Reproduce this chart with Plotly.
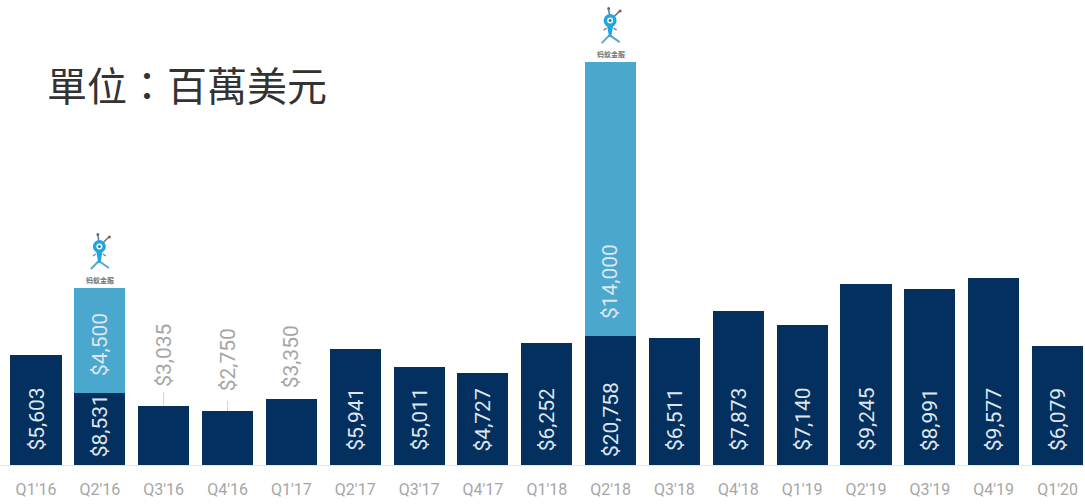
import plotly.graph_objects as go

quarters = ["Q1'16","Q2'16","Q3'16","Q4'16","Q1'17","Q2'17","Q3'17","Q4'17","Q1'18","Q2'18","Q3'18","Q4'18","Q1'19","Q2'19","Q3'19","Q4'19","Q1'20"]
# Heights
base_values = [5603,3700,3035,2750,3350,5941,5011,4727,6252,6600,6511,7873,7140,9245,8991,9577,6079]
ant_values  = [0,5350,0,0,0,0,0,0,0,14000,0,0,0,0,0,0,0]
base_labels = ["$5,603","$8,531",None,None,None,"$5,941","$5,011","$4,727","$6,252","$20,758","$6,511","$7,873","$7,140","$9,245","$8,991","$9,577","$6,079"]
ant_labels  = {1:"$4,500", 9:"$14,000"}
outside_labels = {2:"$3,035", 3:"$2,750", 4:"$3,350"}
connector_lengths = [0,0,700,520,0,0,0,0,0,0,0,0,0,0,0,0,0]

NAVY = "#04305f"
BLUE = "#4aa8cf"
TXT = "#dfe5ec"
GRAY = "#a6a6a6"
FONT = "Roboto"

fig = go.Figure()
fig.add_bar(x=quarters, y=base_values, marker=dict(color=NAVY, line_width=0), width=0.8,
            error_y=dict(type="data", array=connector_lengths, symmetric=False, color="#d5d5d5", thickness=1, width=0))
fig.add_bar(x=quarters, y=ant_values, marker=dict(color=BLUE, line_width=0), width=0.8)

annots = []
def rot(x, y, text, color, shift, size=21):
    annots.append(dict(x=x, y=y, xref="x", yref="y", text=text, textangle=-90, showarrow=False,
                       yanchor="bottom", xanchor="center", yshift=shift, borderpad=0,
                       font=dict(family=FONT, size=size, color=color)))

for i, lab in enumerate(base_labels):
    if lab:
        rot(quarters[i], 0, lab, TXT, 7 if i in (1, 9) else 13)
for i, lab in ant_labels.items():
    rot(quarters[i], base_values[i], lab, TXT, 16)
outside_shift = {2: 18, 3: 19, 4: 10}
for i, lab in outside_labels.items():
    rot(quarters[i], base_values[i], lab, GRAY, outside_shift[i])

annots.append(dict(x=46/1085, y=1-84/465, xref="paper", yref="paper", xanchor="left", yanchor="middle",
                   text="單位：百萬美元", showarrow=False, borderpad=0,
                   font=dict(family="Noto Sans CJK TC", size=40, color="#333333")))

shapes = []
def ant_icon(idx):
    top = base_values[idx] + ant_values[idx]
    q = quarters[idx]
    common = dict(xref="x", yref="y", xsizemode="pixel", ysizemode="pixel", xanchor=q, yanchor=top)
    for path, col, w in [
        ("M -1 46 L -2 53", "#6a7680", 1.5),
        ("M 3 45 L 9 51", "#6a7680", 1.5),
        ("M -1 27 L -9 19", "#5aa6c8", 2),
        ("M -1 27 L 9 20", "#5aa6c8", 2),
        ("M -7 32 L -4 34", "#7a8a94", 1.5),
        ("M 6 32 L 3 34", "#7a8a94", 1.5),
    ]:
        shapes.append(dict(type="path", path=path, line=dict(color=col, width=w), **common))
    shapes.append(dict(type="path", path="M -3.5 36 L 2.5 36 L 0.5 25 L -1.5 25 Z", fillcolor="#1ea5e5", line_width=0, **common))
    shapes.append(dict(type="circle", x0=-7, x1=6, y0=35, y1=48, fillcolor="#1ea5e5", line_width=0, **common))
    shapes.append(dict(type="circle", x0=-3.5, x1=2.5, y0=38.5, y1=44.5, fillcolor="#ffffff", line_width=0, **common))
    shapes.append(dict(type="circle", x0=-2, x1=1, y0=40, y1=43, fillcolor="#1b7fb5", line_width=0, **common))
    shapes.append(dict(type="circle", x0=-3.5, x1=-0.5, y0=52, y1=55, fillcolor="#5b6b78", line_width=0, **common))
    shapes.append(dict(type="circle", x0=8, x1=11, y0=49.5, y1=52.5, fillcolor="#8a5a50", line_width=0, **common))
    annots.append(dict(x=q, y=top, xref="x", yref="y", text="<b>蚂蚁金服</b>", showarrow=False, yanchor="bottom",
                       xanchor="center", yshift=2, borderpad=0,
                       font=dict(family="Noto Sans CJK SC", size=7, color="#777777")))
ant_icon(1)
ant_icon(9)

fig.update_layout(
    barmode="stack", width=1085, height=504, showlegend=False,
    margin=dict(l=0, r=0, t=0, b=39), paper_bgcolor="white", plot_bgcolor="white",
    annotations=annots, shapes=shapes,
    xaxis=dict(type="category", range=[-0.564, 16.43], showgrid=False, showline=True, linecolor="#e6e6e6",
               linewidth=1, ticks="", tickangle=0, tickfont=dict(family=FONT, size=16, color=GRAY), ticklabelstandoff=10),
    yaxis=dict(range=[0, 23776], visible=False),
)
fig.write_html("out.html", config=dict(displayModeBar=False), post_script="document.body.style.margin='0';")
